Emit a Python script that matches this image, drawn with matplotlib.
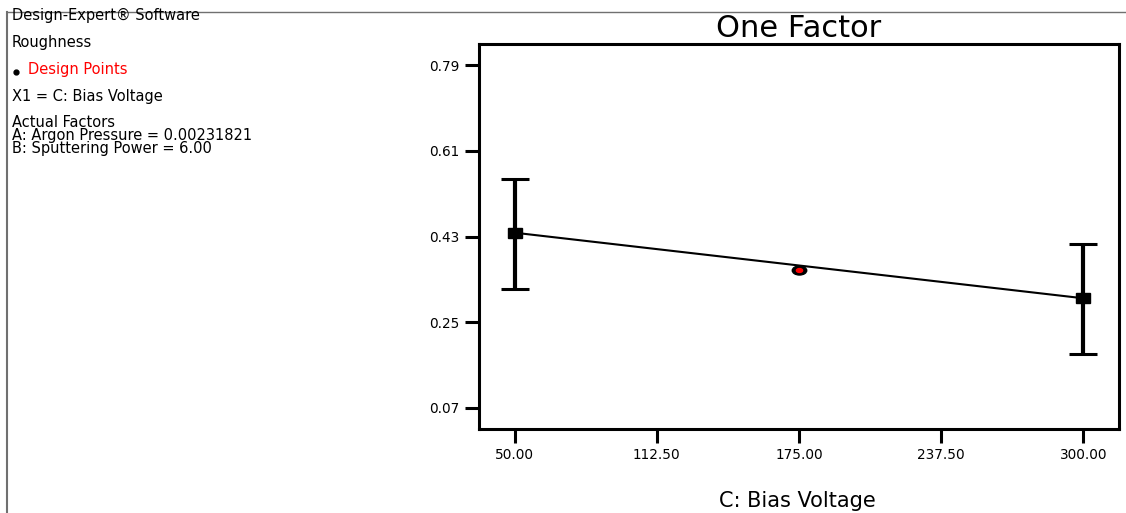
#!/usr/bin/env python3
"""One Factor plot: Roughness vs C: Bias Voltage (Design-Expert style)."""

import matplotlib
matplotlib.use("Agg")
import matplotlib.pyplot as plt
from matplotlib.lines import Line2D
from matplotlib.markers import MarkerStyle
from matplotlib.transforms import Affine2D

# Factor levels and predicted roughness at the ends of the range
BIAS_VOLTAGE = [50.0, 300.0]
PREDICTED = [0.438, 0.300]
LSD_LOWER = [0.320, 0.182]
LSD_UPPER = [0.551, 0.414]

# Design point (center point)
DESIGN_X = [175.0]
DESIGN_Y = [0.359]

X_TICKS = [50.00, 112.50, 175.00, 237.50, 300.00]
Y_TICKS = [0.07, 0.25, 0.43, 0.61, 0.79]

INFO_LINES = [
    ("Design-Expert\u00ae Software", 20),
    ("Roughness", 47),
    ("X1 = C: Bias Voltage", 101),
    ("Actual Factors", 127),
    ("A: Argon Pressure = 0.00231821", 140),
    ("B: Sputtering Power = 6.00", 153),
]

W, H = 1126, 513


def px(x, y):
    """Pixel position (from top-left) -> figure fraction."""
    return x / W, 1 - y / H


def main():
    fig = plt.figure(figsize=(W / 100, H / 100), dpi=100)
    ax = fig.add_axes([479 / W, 1 - 429 / H, (1119 - 479) / W, (429 - 44) / H])

    # prediction line
    ax.plot(BIAS_VOLTAGE, PREDICTED, color="black", lw=1.5, zorder=2)

    # LSD bars at the factor levels
    yerr = [[p - lo for p, lo in zip(PREDICTED, LSD_LOWER)],
            [hi - p for p, hi in zip(PREDICTED, LSD_UPPER)]]
    ax.errorbar(BIAS_VOLTAGE, PREDICTED, yerr=yerr, fmt="none", ecolor="black",
                elinewidth=3, capsize=10, capthick=2.2, zorder=3)
    wide_sq = MarkerStyle("s", transform=Affine2D().scale(1.6, 1.0))
    ax.plot(BIAS_VOLTAGE, PREDICTED, linestyle="none", marker=wide_sq,
            markersize=6.5, color="black", zorder=4)

    # design point: black ellipse with red center
    ellipse = MarkerStyle("o", transform=Affine2D().scale(1.6, 1.0))
    ax.plot(DESIGN_X, DESIGN_Y, linestyle="none", marker=ellipse,
            markersize=6.5, color="black", zorder=5)
    ax.plot(DESIGN_X, DESIGN_Y, linestyle="none", marker=ellipse,
            markersize=2.8, color="red", zorder=6)

    ax.set_xlim(34.4, 315.6)
    ax.set_ylim(0.025, 0.835)
    ax.set_xticks(X_TICKS)
    ax.set_xticklabels([f"{v:.2f}" for v in X_TICKS])
    ax.set_yticks(Y_TICKS)
    ax.set_yticklabels([f"{v:.2f}" for v in Y_TICKS])
    ax.tick_params(direction="out", length=10, width=2.2, labelsize=9.8, pad=4)
    for s in ax.spines.values():
        s.set_linewidth(2.2)

    ax.set_title("One Factor", fontsize=22, pad=5)
    ax.set_xlabel("C: Bias Voltage", fontsize=15)
    ax.xaxis.label.set_va("baseline")
    ax.xaxis.set_label_coords((797 - 479) / 640, -(507 - 429) / 385)

    # info panel on the left
    for txt, yb in INFO_LINES:
        fig.text(*px(12, yb), txt, fontsize=10.5, va="baseline", ha="left")
    fig.text(*px(28, 74), "Design Points", fontsize=10.5, color="red",
             va="baseline", ha="left")
    fig.add_artist(Line2D([px(15.5, 72)[0]], [px(15.5, 72)[1]], marker="o",
                          markersize=3.5, color="black", linestyle="none"))

    # frame lines at top and left
    fig.add_artist(Line2D([px(7, 12)[0], 1.0], [px(7, 12)[1]] * 2,
                          color="#707070", lw=1.0))
    fig.add_artist(Line2D([px(7, 12)[0]] * 2, [px(7, 12)[1], 0.0],
                          color="#707070", lw=1.5))

    plt.savefig("out.png", dpi=100)
    plt.close()


if __name__ == "__main__":
    main()
